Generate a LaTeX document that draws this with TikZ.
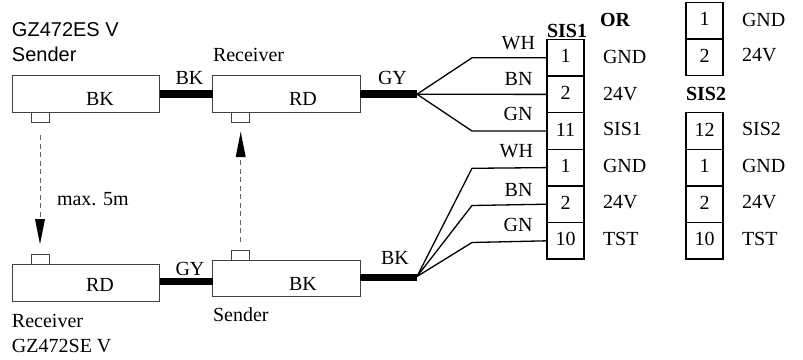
\documentclass[tikz,border=0pt]{standalone}
\usepackage{fontspec}
\setmainfont{Liberation Serif}
\newfontfamily\arialfont{Liberation Sans}
\usetikzlibrary{arrows.meta}
\begin{document}
\begin{tikzpicture}[x=1pt,y=-1pt,
  every node/.style={inner sep=0pt,outer sep=0pt},
  txt/.style={font=\fontsize{20}{20}\selectfont,anchor=base west},
  txtr/.style={font=\fontsize{20}{20}\selectfont,anchor=base east},
  sanstxt/.style={font=\fontsize{20}{20}\arialfont\selectfont,anchor=base west},
  boldtxt/.style={font=\fontsize{20}{20}\bfseries\selectfont,anchor=base west},
  unit/.style={draw=black!75,line width=1pt,minimum width=147.5pt,minimum height=36.5pt},
  tab/.style={draw=black!75,line width=0.8pt,minimum width=18pt,minimum height=10pt},
  cell/.style={draw=black,line width=1.3pt,minimum width=37pt,minimum height=36.6pt,
    text height=14pt,text depth=4pt,font=\fontsize{20}{20}\selectfont},
  thick cable/.style={line width=7.5pt,black},
  wire/.style={line width=1.3pt,black,line join=round},
  beam/.style={dashed,dash pattern=on 5pt off 3.5pt,line width=0.6pt,black!60}
]
\useasboundingbox (0,0) rectangle (803,359);
% units
\node[unit] (s1) at (86.2,94.2) {};
\node[unit] (r1) at (286.7,94.2) {};
\node[unit] (r2) at (86.2,282.8) {};
\node[unit] (s2) at (286.7,278.5) {};
\node[tab] (ts1) at (40,117.2) {};
\node[tab] (tr1) at (240.7,117.2) {};
\node[tab] (tr2) at (40,259.6) {};
\node[tab] (ts2) at (240.7,255.2) {};
% fan-out points
\coordinate (f1) at (417,94.2);
\coordinate (f2) at (417,276.5);
% terminal cells
\node[cell] (a1) at (565.5,57.8) {1};
\node[cell] (a2) at (565.5,94.4) {2};
\node[cell] (a3) at (565.5,131) {11};
\node[cell] (a4) at (565.5,167.6) {1};
\node[cell] (a5) at (565.5,204.2) {2};
\node[cell] (a6) at (565.5,240.8) {10};
\node[cell] (b1) at (704.5,20.8) {1};
\node[cell] (b2) at (704.5,57) {2};
\node[cell] (b3) at (704.5,131) {12};
\node[cell] (b4) at (704.5,167.6) {1};
\node[cell] (b5) at (704.5,204.2) {2};
\node[cell] (b6) at (704.5,240.8) {10};
% cables
\draw[thick cable] (s1.east) -- (r1.west);
\draw[thick cable] (r1.east) -- (f1);
\draw[thick cable] (r2.east|-0,281.5) -- (s2.west|-0,281.5);
\draw[thick cable] (s2.east|-0,277.5) -- (f2|-0,277.5);
% wires
\draw[wire] (f1) -- (472,57.8) -- (a1.west);
\draw[wire] (f1) -- (a2.west);
\draw[wire] (f1) -- (472,131) -- (a3.west);
\draw[wire] (f2) -- (472,168.3) -- (a4.west);
\draw[wire] (f2) -- (472,205.5) -- (a5.west);
\draw[wire] (f2) -- (472,242.5) -- (a6.west);
% beams
\coordinate (e1) at (40,135);
\coordinate (e2) at (40,244);
\coordinate (e3) at (240.7,241.6);
\coordinate (e4) at (240.7,131.7);
\draw[beam] (e1) -- (40,222);
\draw[beam] (e3) -- (240.7,154);
\fill[black] (e2) -- (35,219) -- (45,219) -- cycle;
\fill[black] (e4) -- (235.7,157) -- (245.7,157) -- cycle;
% texts
\node[sanstxt] (n1) at (12,36.5) {GZ472ES V};
\node[sanstxt] (n2) at (12,61) {Sender};
\node[txt] (n3) at (213,61) {Receiver};
\node[txt] (n4) at (175.5,84) {BK};
\node[txt] (n5) at (86,105) {BK};
\node[txt] (n6) at (289,105) {RD};
\node[txt] (n7) at (378,84) {GY};
\node[txt] (n8) at (175.5,275) {GY};
\node[txt] (n9) at (86,291) {RD};
\node[txt] (n10) at (289,290) {BK};
\node[txt] (n11) at (381,264) {BK};
\node[txt] (n12) at (213,321) {Sender};
\node[txt] (n13) at (12,327) {Receiver};
\node[txt] (n14) at (12,352) {GZ472SE V};
\node[txt] (n15) at (57,205) {max. 5m};
\node[txtr] (w1) at (535,49) {WH};
\node[txtr] (w2) at (532.5,85) {BN};
\node[txtr] (w3) at (532.5,120.7) {GN};
\node[txtr] (w4) at (533,157.7) {WH};
\node[txtr] (w5) at (532.5,196) {BN};
\node[txtr] (w6) at (532.5,231) {GN};
\node[boldtxt] (h1) at (547,37.7) {SIS1};
\node[boldtxt] (h2) at (600,26.7) {OR};
\node[boldtxt] (h3) at (686,100) {SIS2};
\node[txt] (l1) at (603,63) {GND};
\node[txt] (l2) at (603,100) {24V};
\node[txt] (l3) at (603,135.7) {SIS1};
\node[txt] (l4) at (603,172.3) {GND};
\node[txt] (l5) at (603,208) {24V};
\node[txt] (l6) at (603,245.7) {TST};
\node[txt] (m1) at (742,26) {GND};
\node[txt] (m2) at (742,61.7) {24V};
\node[txt] (m3) at (742,135.7) {SIS2};
\node[txt] (m4) at (742,172.3) {GND};
\node[txt] (m5) at (742,208) {24V};
\node[txt] (m6) at (742,245.7) {TST};
\end{tikzpicture}
\end{document}
